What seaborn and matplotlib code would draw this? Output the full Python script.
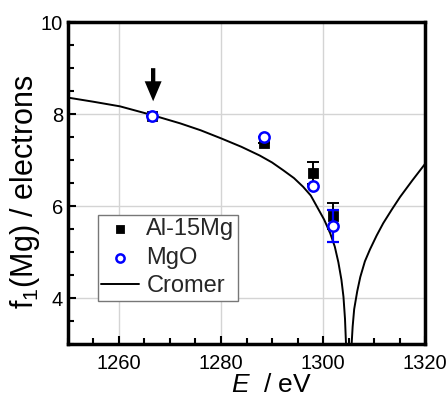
import numpy as np
import pandas as pd
import matplotlib
matplotlib.use("Agg")
import matplotlib.pyplot as plt
import seaborn as sns

# measured points
energy_al = [1266.5, 1288.5, 1298.0, 1302.0]
f1_al = [7.95, 7.37, 6.72, 5.78]
err_al = [0.0, 0.0, 0.23, 0.28]

energy_mgo = [1266.5, 1288.5, 1298.0, 1302.0]
f1_mgo = [7.95, 7.50, 6.43, 5.57]
err_mgo = [0.0, 0.0, 0.0, 0.35]

# Cromer curve
cromer_e = [1250.0, 1255.0, 1260.2, 1266.5, 1272.0, 1276.0, 1280.1, 1284.0, 1287.6,
            1290.0, 1292.2, 1294.3, 1296.1, 1297.6, 1298.8, 1300.2, 1301.4, 1302.3,
            1303.0, 1303.6, 1304.0, 1304.3, 1304.5, 1305.0, 1305.6, 1305.8, 1306.1,
            1306.7, 1307.3, 1308.2, 1309.2, 1310.5, 1311.8, 1313.5, 1315.1, 1317.5,
            1320.0]
cromer_f = [8.36, 8.27, 8.17, 7.98, 7.80, 7.65, 7.47, 7.29, 7.10,
            6.95, 6.78, 6.61, 6.42, 6.23, 5.99, 5.71, 5.41, 5.12,
            4.78, 4.40, 4.03, 3.55, 3.0, 1.5, 3.0, 3.38, 3.76,
            4.15, 4.46, 4.80, 5.06, 5.36, 5.63, 5.93, 6.20, 6.56,
            6.92]

sns.set_style("ticks")
plt.rcParams['font.family'] = ['Liberation Sans', 'DejaVu Sans']
plt.rcParams['mathtext.fontset'] = 'custom'
plt.rcParams['mathtext.rm'] = 'Liberation Sans'
plt.rcParams['mathtext.it'] = 'Liberation Sans:italic'

fig = plt.figure(figsize=(4.47, 3.96), dpi=100)
ax = fig.add_axes([0.152, 0.131, 0.799, 0.813])

ax.grid(True, which='major', color='#d4d4d4', linewidth=1.0)
ax.set_axisbelow(True)

cromer = pd.DataFrame({'E': cromer_e, 'f1': cromer_f})
sns.lineplot(data=cromer, x='E', y='f1', color='black', linewidth=1.4,
             sort=False, estimator=None, ax=ax, label='Cromer', zorder=2)

al = pd.DataFrame({'E': energy_al, 'f1': f1_al, 'err': err_al})
mgo = pd.DataFrame({'E': energy_mgo, 'f1': f1_mgo, 'err': err_mgo})

ax.errorbar(al['E'], al['f1'], yerr=al['err'], fmt='none', ecolor='black',
            elinewidth=1.4, capsize=4, capthick=1.4, zorder=3)
sns.scatterplot(data=al, x='E', y='f1', marker='s', s=55, color='black',
                edgecolor='black', ax=ax, label='Al-15Mg', zorder=4)
ax.errorbar(mgo['E'], mgo['f1'], yerr=mgo['err'], fmt='none', ecolor='#0000ff',
            elinewidth=1.6, capsize=4, capthick=1.6, zorder=5)
sns.scatterplot(data=mgo, x='E', y='f1', marker='o', s=55, facecolor='white',
                edgecolor='#0000ff', linewidth=1.8, ax=ax, label='MgO', zorder=6)

# arrow pointing at the first data point
ax.annotate('', xy=(1266.7, 8.28), xytext=(1266.7, 9.0),
            arrowprops=dict(arrowstyle='simple,head_width=1.22,head_length=1.44,tail_width=0.31',
                            mutation_scale=10, facecolor='black', edgecolor='none',
                            shrinkA=0, shrinkB=0))

ax.set_xlim(1250, 1320)
ax.set_ylim(3, 10)
ax.set_xticks([1260, 1280, 1300, 1320])
ax.set_xticks(np.arange(1250, 1321, 5), minor=True)
ax.set_yticks([4, 6, 8, 10])
ax.set_yticks(np.arange(3, 10.01, 0.5), minor=True)
ax.tick_params(which='both', direction='in', labelsize=14.5, width=1.5,
               color='black', labelcolor='black')
ax.tick_params(which='major', length=6)
ax.tick_params(which='minor', length=4)
ax.tick_params(axis='x', which='both', pad=7)
for sp in ax.spines.values():
    sp.set_linewidth(2.5)
    sp.set_color('black')
    sp.set_visible(True)

ax.set_xlabel('$E$  / eV', fontsize=19, color='black')
ax.xaxis.set_label_coords(0.571, -0.09)
ax.set_ylabel('f$_1$(Mg) / electrons', fontsize=22, color='black')
ax.yaxis.set_label_coords(-0.074, 0.472)

handles, labels = ax.get_legend_handles_labels()
order = [labels.index(k) for k in ['Al-15Mg', 'MgO', 'Cromer']]
leg = ax.legend([handles[i] for i in order], [labels[i] for i in order],
                loc='lower left', bbox_to_anchor=(0.084, 0.134), fontsize=17,
                frameon=True, fancybox=False, edgecolor='#777777', framealpha=1,
                handlelength=1.6, handletextpad=0.3, borderpad=0.15,
                labelspacing=0.28, borderaxespad=0, markerscale=0.8)
leg.get_frame().set_linewidth(1.0)

fig.savefig('out.png', dpi=100)
